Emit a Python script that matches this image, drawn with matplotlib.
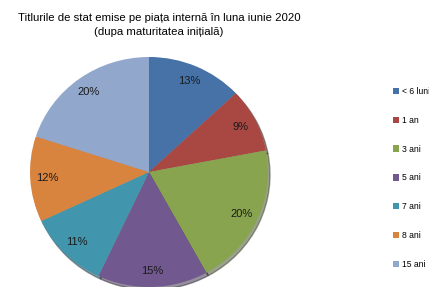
import matplotlib.pyplot as plt

plt.rcParams['font.family'] = ['Liberation Sans', 'DejaVu Sans']

# date grafic
categorii = ["< 6 luni", "1 an", "3 ani", "5 ani", "7 ani", "8 ani", "15 ani"]
procente = [13, 9, 20, 15, 11, 12, 20]
culori = ["#4672A7", "#A94743", "#88A44E", "#71588F", "#4196AD", "#D9843E", "#91A7CC"]

fig = plt.figure(figsize=(4.29, 2.87), dpi=100)

# axa pie: centru ~ (149, 172) px, raza ~ 119 x 115 px, jos taiat de margine
ax = fig.add_axes([30 / 429, 0 / 287, 238 / 429, 230 / 287])
wedges, texte, procent_txt = ax.pie(
    procente, colors=culori, startangle=90, counterclock=False,
    autopct=lambda p: "%.0f%%" % p, pctdistance=0.86,
    shadow={'ox': 0.012, 'oy': -0.018, 'shade': 0.6},
    textprops={'fontsize': 8, 'color': '#1a1a1a'})
ax.set_xlim(-1, 1)
ax.set_ylim(-1, 1)
ax.set_aspect('auto')

fig.text(159 / 429, 1 - 25 / 287,
         "Titlurile de stat emise pe piața internă în luna iunie 2020\n(dupa maturitatea inițială)",
         ha='center', va='center', fontsize=8.2, linespacing=1.5)

fig.legend(wedges, categorii, loc='upper left', bbox_to_anchor=(393 / 429, 1 - 87 / 287),
           frameon=False, fontsize=6.2, labelspacing=2.3, handlelength=0.75,
           handleheight=0.75, handletextpad=0.3, borderaxespad=0, borderpad=0)

plt.savefig("out.png", dpi=100)
